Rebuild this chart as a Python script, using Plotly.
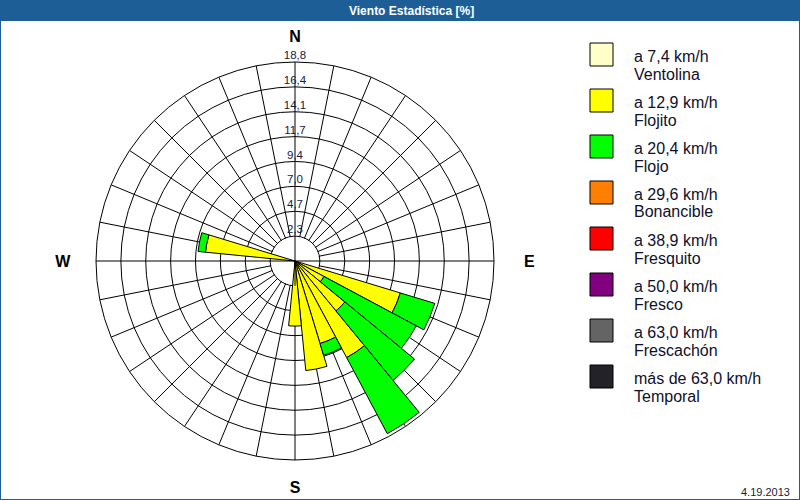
import plotly.graph_objects as go

# ---------------- data ----------------
directions = [112.5, 123.75, 135.0, 146.25, 157.5, 168.75, 180.0, 281.25]

ventolina   = [0.3, 0.3, 0.3, 0.3, 0.3, 0.3, 0.3, 0.3]
flojito     = [10.1, 2.8, 5.8, 10.05, 7.85, 10.1, 5.85, 8.2]
flojo       = [3.4, 9.9, 8.5, 8.15, 1.15, 0.0, 0.0, 0.7]
bonancible  = [0, 0, 0, 0, 0, 0, 0, 0]
fresquito   = [0, 0, 0, 0, 0, 0, 0, 0]
fresco      = [0, 0, 0, 0, 0, 0, 0, 0]
frescachon  = [0, 0, 0, 0, 0, 0, 0, 0]
temporal    = [0, 0, 0, 0, 0, 0, 0, 0]

series = [ventolina, flojito, flojo, bonancible, fresquito, fresco, frescachon, temporal]
speed_labels = ["a 7,4 km/h", "a 12,9 km/h", "a 20,4 km/h", "a 29,6 km/h",
                "a 38,9 km/h", "a 50,0 km/h", "a 63,0 km/h", "más de 63,0 km/h"]
class_names = ["Ventolina", "Flojito", "Flojo", "Bonancible",
               "Fresquito", "Fresco", "Frescachón", "Temporal"]
colors = ["#FFFFC8", "#FFFF00", "#00FF00", "#FF8000",
          "#FF0000", "#800080", "#646464", "#222228"]

radial_ticks = [2.35, 4.7, 7.05, 9.4, 11.75, 14.1, 16.45, 18.8]
radial_labels = ["2,3", "4,7", "7,0", "9,4", "11,7", "14,1", "16,4", "18,8"]
NB = "\u00a0"
compass = {0: "N", 90: NB * 3 + "E", 180: "S", 270: "W" + NB * 2}
title_text = "Viento Estadística [%]"
date_text = "4.19.2013"

# ---------------- figure ----------------
W, H = 800, 500
BLUE = "#1d5e96"
sector = 360 / 32
spoke_vals = [i * sector for i in range(32)]
spoke_text = [compass[v] if v in compass else "" for v in spoke_vals]
rmax = radial_ticks[-1]
rhole = radial_ticks[0]

fig = go.Figure()

# white inner hole covering spokes
fig.add_trace(go.Barpolar(r=[rhole * 0.97], theta=[0], width=[360],
                          marker=dict(color="white", line=dict(width=0)),
                          hoverinfo="skip", showlegend=False))
# cardinal lines continuing through the hole
fig.add_trace(go.Scatterpolar(r=[rhole, 0, rhole, None, rhole, 0, rhole],
                              theta=[0, 0, 180, None, 90, 90, 270],
                              mode="lines", line=dict(color="black", width=1),
                              hoverinfo="skip", showlegend=False))

for vals, col, lab, nm in zip(series, colors, speed_labels, class_names):
    fig.add_trace(go.Barpolar(r=vals, theta=directions, width=[sector] * len(directions),
                              name=f"{lab} {nm}",
                              marker=dict(color=col, line=dict(color="black", width=1)),
                              showlegend=False))

# radial value labels along the N spoke
fig.add_trace(go.Scatterpolar(r=radial_ticks, theta=[0] * len(radial_ticks),
                              mode="text", text=radial_labels, textposition="top center",
                              textfont=dict(family="Liberation Sans", size=11.5, color="#1a1a3a"),
                              cliponaxis=False, hoverinfo="skip", showlegend=False))

cx, cy, R = 295, 261, 199
fig.update_layout(
    width=W, height=H, margin=dict(l=0, r=0, t=0, b=0),
    paper_bgcolor="white", showlegend=False,
    polar=dict(
        domain=dict(x=[(cx - R) / W, (cx + R) / W], y=[(H - cy - R) / H, (H - cy + R) / H]),
        bgcolor="white", barmode="stack",
        angularaxis=dict(rotation=90, direction="clockwise", tickmode="array",
                         tickvals=spoke_vals, ticktext=spoke_text,
                         ticks="outside", ticklen=13, tickcolor="rgba(0,0,0,0)",
                         showline=True, linecolor="black", linewidth=1,
                         gridcolor="black", gridwidth=1,
                         tickfont=dict(family="Liberation Sans", size=16, color="black", weight="bold")),
        radialaxis=dict(range=[0, rmax], tickmode="array", tickvals=radial_ticks,
                        showticklabels=False, ticks="", showline=False,
                        gridcolor="black", gridwidth=1),
    ),
)

shapes = [
    dict(type="rect", xref="paper", yref="paper", x0=0, x1=1, y0=1 - 21 / H, y1=1,
         fillcolor=BLUE, line=dict(width=0), layer="above"),
    dict(type="rect", xref="paper", yref="paper", x0=0, x1=1, y0=0, y1=1,
         fillcolor="rgba(0,0,0,0)", line=dict(color=BLUE, width=2), layer="above"),
]
annotations = [
    dict(text=title_text, xref="paper", yref="paper", x=411 / W, y=1 - 10.5 / H,
         showarrow=False, xanchor="center", yanchor="middle",
         font=dict(family="Liberation Sans", size=12, color="white", weight="bold")),
    dict(text=date_text, xref="paper", yref="paper", x=792 / W, y=1 - 492 / H,
         showarrow=False, xanchor="right", yanchor="middle",
         font=dict(family="Liberation Sans", size=11, color="#1a1a3a")),
]

# legend (custom, large swatches)
lx0, ly0, sw, step = 590, 43, 23, 46
for i, (col, lab, nm) in enumerate(zip(colors, speed_labels, class_names)):
    top = ly0 + i * step
    shapes.append(dict(type="rect", xref="paper", yref="paper",
                       x0=lx0 / W, x1=(lx0 + sw) / W,
                       y0=1 - (top + sw) / H, y1=1 - top / H,
                       fillcolor=col, line=dict(color="black", width=1)))
    annotations.append(dict(text=lab, xref="paper", yref="paper", x=632 / W,
                            y=1 - (top + 13.5) / H, showarrow=False,
                            xanchor="left", yanchor="middle",
                            font=dict(family="Liberation Sans", size=16, color="#10102a")))
    annotations.append(dict(text=nm, xref="paper", yref="paper", x=632 / W,
                            y=1 - (top + 31) / H, showarrow=False,
                            xanchor="left", yanchor="middle",
                            font=dict(family="Liberation Sans", size=16, color="#10102a")))

fig.update_layout(shapes=shapes, annotations=annotations)
fig.write_html("out.html")
